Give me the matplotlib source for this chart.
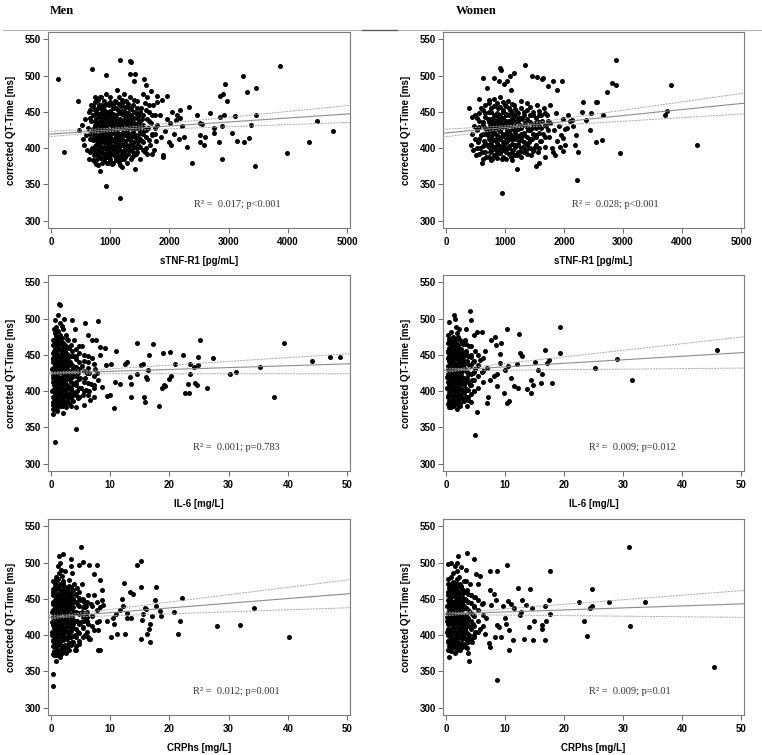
import matplotlib
matplotlib.use('Agg')
import matplotlib.pyplot as plt
import numpy as np

plt.rcParams['font.family'] = ['Liberation Sans', 'DejaVu Sans']

# ---- data: (marker value, corrected QT-Time) ----
men_tnf = [
    (480,425),(520,432),(540,412),(560,405),(575,440),(590,418),(610,398),(620,428),(640,450),(650,385),
    (660,412),(670,437),(680,460),(690,400),(700,422),
    (710,445),(720,390),(730,415),(740,432),(750,470),(755,405),(765,378),(770,425),(780,448),(790,398),
    (800,412),(805,436),(815,460),(820,388),(830,420),(835,443),(845,402),(850,455),(860,380),(865,430),
    (870,415),(880,394),(885,447),(890,425),(895,408),(900,465),(760,440),(775,410),(795,455),(810,395),
    (825,430),(840,418),(855,440),(875,400),(730,400),(745,420),(785,385),(815,425),(835,470),(880,435),
    (905,388),(910,418),(915,438),(920,400),(925,475),(930,428),(935,410),(940,450),(945,392),(950,432),
    (955,380),(960,415),(965,445),(970,402),(975,425),(980,460),(985,395),(990,437),(995,410),(1000,470),
    (1005,385),(1010,420),(1015,448),(1020,405),(1025,430),(1030,378),(1035,413),(1040,442),(1045,398),
    (1050,455),(1055,422),(1060,390),(1065,435),(1070,410),(1075,465),(1080,427),(1085,400),(1090,445),
    (1095,383),(1100,418),(920,425),(960,435),(1000,398),(1040,428),(1080,412),
    (1105,440),(1110,395),(1115,480),(1120,425),(1125,408),(1130,452),(1135,385),(1140,433),(1145,415),
    (1150,470),(1155,398),(1160,440),(1165,420),(1170,377),(1175,458),(1180,405),(1185,430),(1190,390),
    (1195,447),(1200,412),(1205,462),(1210,425),(1215,395),(1220,438),(1225,408),(1230,475),(1235,385),
    (1240,428),(1245,450),(1250,402),(1255,418),(1260,440),(1265,390),(1270,465),(1275,422),(1280,405),
    (1285,445),(1290,380),(1295,432),(1300,412),
    (1310,455),(1320,398),(1330,428),(1340,470),(1350,410),(1360,440),(1370,388),(1380,422),(1390,460),
    (1400,402),(1410,435),(1420,415),(1430,448),(1440,392),(1450,428),(1460,465),(1470,405),(1480,438),
    (1490,420),(1500,385),(1315,420),(1345,435),(1375,405),(1405,450),(1435,428),(1465,410),(1495,445),
    (1325,442),(1385,395),(1455,400),
    (1510,430),(1520,455),(1530,410),(1545,440),(1560,398),(1570,425),(1585,462),(1600,415),(1615,440),
    (1630,392),(1645,428),(1660,450),(1675,405),(1690,435),(1705,418),(1720,460),(1735,398),(1750,428),
    (1765,445),(1780,410),(1795,432),(1550,475),(1620,470),(1700,392),(1580,395),
    (1846,446),(1790,464),(1874,466),(1762,420),(1886,391),(1897,388),(1930,423),(1987,409),(2015,434),
    (2027,404),(2072,420),(2117,439),(2128,446),(2156,412),(2213,430),(2241,416),(1960,440),(2050,450),
    (1850,415),(2180,442),
    (113,495),(214,395),(450,465),(687,509),(923,501),(935,348),(1160,331),(1160,522),(1340,520),
    (1357,519),(1340,502),(1425,502),(1396,493),(1565,495),(1610,487),(1419,371),(1205,374),(833,369),
    (1689,479),(1790,472),(1959,472),(2185,453),(2325,456),(2297,402),(2381,379),(2466,446),(2522,434),
    (2550,433),(2522,418),(2522,409),(2607,416),(2590,405),(2691,448),(2747,421),(2832,409),(2860,472),
    (2905,475),(2747,428),(2888,385),(2933,489),(2973,465),(2860,443),(2883,430),(2928,445),(3057,421),
    (3113,444),(3141,410),(3243,500),(3254,408),(3310,477),(3338,414),(3378,432),(3451,376),(3468,446),
    (3468,483),(3873,513),(3986,394),(4352,408),(4493,438),(4763,423),
]
# dense core, read column by column: x -> QT values
men_tnf_core = {
    655: [395, 419, 441, 453], 702: [384, 399, 411, 427, 446, 458],
    748: [381, 393, 403, 417, 429, 437, 452, 463], 797: [377, 391, 404, 415, 425, 434, 446, 467],
    852: [386, 395, 409, 414, 423, 437, 448, 460, 471], 903: [383, 392, 402, 413, 421, 431, 443, 452, 458],
    948: [379, 388, 398, 407, 419, 426, 440, 447, 461], 1002: [382, 390, 404, 414, 424, 433, 444, 451, 464],
    1053: [380, 395, 402, 412, 426, 436, 447, 459], 1098: [386, 392, 406, 415, 423, 433, 441, 455, 463],
    1152: [381, 389, 401, 410, 419, 428, 439, 448, 461], 1203: [385, 396, 405, 418, 429, 436, 451, 467],
    1249: [388, 397, 410, 421, 434, 443, 456], 1302: [392, 401, 417, 426, 438, 448, 461],
    1348: [385, 397, 406, 416, 429, 445, 454], 1401: [390, 409, 420, 428, 441, 467],
    1452: [395, 414, 433, 441, 455], 1503: [401, 412, 423, 437, 450], 1551: [408, 419, 432, 446],
    1603: [400, 425, 452], 1648: [411, 438, 459], 1702: [420, 445],
}

women_tnf = [
    (420,405),(440,420),(455,398),(470,430),(490,412),(500,445),(515,390),(530,425),(545,408),(560,438),
    (575,400),(590,455),(600,418),(615,395),(630,432),(645,410),(660,448),(675,388),(690,425),(700,405),
    (710,440),(720,418),(730,462),(740,395),(750,430),(760,410),(770,450),(780,385),(790,422),(800,440),
    (810,400),(820,468),(830,428),(840,412),(850,445),(860,392),(870,432),(880,455),(890,405),(900,425),
    (910,470),(920,398),(930,440),(940,415),(950,385),(960,450),(970,420),(980,405),(990,435),(1000,460),
    (725,405),(765,435),(805,420),(845,398),(885,440),(925,428),(965,402),(995,415),
    (1010,395),(1020,445),(1030,425),(1040,410),(1050,465),(1060,438),(1070,400),(1080,420),(1090,452),
    (1100,388),(1110,430),(1120,412),(1130,445),(1140,398),(1150,425),(1160,460),(1170,405),(1180,437),
    (1190,418),(1200,390),(1210,450),(1220,428),(1230,410),(1240,442),(1250,395),(1260,432),(1270,465),
    (1280,415),(1290,440),(1300,402),(1015,430),(1065,415),(1115,440),(1165,425),(1215,405),(1265,420),
    (1315,450),(1330,418),(1345,435),(1360,398),(1375,462),(1390,425),(1405,408),(1420,445),(1435,390),
    (1450,428),(1465,412),(1480,450),(1495,400),(1510,435),(1525,418),(1540,460),(1555,395),(1570,430),
    (1585,445),(1600,410),(1620,438),(1640,420),(1660,455),(1680,402),(1700,430),
    (1720,445),(1745,415),(1770,435),(1800,400),(1830,425),(1860,448),(1890,410),(1920,430),(1950,418),
    (1980,440),(2010,405),(2050,428),(2100,437),(1760,460),(1850,390),
    (383,455),(439,443),(563,468),(625,497),(608,379),(692,483),(816,497),(906,492),(917,510),(929,507),
    (946,338),(985,489),(1041,493),(1087,500),(1154,504),(1098,480),(1199,371),(1340,515),(1452,500),
    (1537,498),(1621,495),(1650,496),(1526,376),(1582,379),(1678,388),(1734,485),(1807,493),(1818,395),
    (1875,480),(1959,493),(1976,396),(1931,402),(1987,414),(2015,427),(2072,446),(2128,439),(2156,430),
    (2196,418),(2190,405),(2230,395),(2213,356),(2297,450),(2325,463),(2381,439),(2438,425),(2455,449),
    (2540,463),(2550,408),(2562,464),(2652,411),(2663,446),(2731,477),(2821,490),(2888,487),(2888,522),
    (2944,393),(3705,446),(3744,451),(3806,487),(4256,404),
]
women_tnf_core = {
    522: [400, 426, 441], 568: [392, 413, 429, 448], 621: [385, 403, 420, 436, 452],
    668: [395, 407, 419, 428, 443, 459], 723: [388, 401, 412, 424, 436, 450, 466],
    771: [383, 396, 406, 416, 427, 440, 455], 818: [390, 401, 411, 422, 433, 445, 458],
    872: [386, 398, 407, 418, 428, 438, 449, 462], 918: [393, 403, 413, 423, 434, 445, 456],
    971: [388, 398, 409, 418, 430, 441, 452, 464], 1022: [385, 399, 408, 420, 429, 437, 447, 458],
    1068: [392, 403, 412, 423, 434, 446, 455], 1121: [383, 395, 406, 417, 428, 436, 449, 461],
    1172: [390, 401, 413, 422, 431, 444, 454], 1218: [395, 405, 417, 426, 437, 448],
    1271: [388, 400, 411, 428, 441, 455], 1322: [395, 408, 421, 432, 445],
    1368: [392, 404, 415, 429, 440, 452], 1421: [400, 412, 425, 436, 457],
    1472: [396, 420, 432, 446], 1519: [405, 415, 428, 442], 1572: [400, 421, 436, 451],
    1618: [410, 428, 445], 1671: [415, 432, 448], 1722: [425, 438],
}

men_il6 = [
    (0.2,400),(0.3,418),(0.3,440),(0.4,385),(0.4,428),(0.5,455),(0.5,408),(0.6,470),(0.6,392),(0.7,435),
    (0.7,415),(0.8,448),(0.8,378),(0.9,425),(0.9,402),(1.0,462),(1.0,438),(0.3,375),(0.5,485),(0.7,498),
    (0.4,445),(0.6,420),(0.8,432),(0.9,410),(0.2,430),
    (1.1,395),(1.1,450),(1.2,420),(1.2,475),(1.3,405),(1.3,440),(1.4,388),(1.4,458),(1.5,428),(1.5,412),
    (1.6,445),(1.6,470),(1.7,398),(1.7,435),(1.8,418),(1.8,490),(1.9,380),(1.9,452),(2.0,425),(2.0,408),
    (1.2,505),(1.3,520),(1.5,518),(1.1,430),(1.4,415),(1.6,400),(1.8,440),(1.9,465),(1.0,372),(1.7,385),
    (2.1,440),(2.2,395),(2.3,460),(2.3,415),(2.4,432),(2.5,385),(2.5,478),(2.6,420),(2.7,448),(2.8,405),
    (2.8,435),(2.9,470),(3.0,392),(3.0,425),(2.2,500),(2.6,378),(2.4,410),(2.9,445),(2.1,370),(2.7,428),
    (3.2,440),(3.3,405),(3.5,455),(3.6,420),(3.8,395),(3.9,470),(4.0,430),(4.2,412),(4.3,448),(4.5,390),
    (4.6,425),(4.8,462),(5.0,405),(3.4,380),(4.1,485),(4.7,440),(3.7,432),(4.4,400),(3.1,418),(4.9,418),
    (3.5,498),(4.2,378),
    (5.2,435),(5.4,395),(5.5,381),(5.6,450),(5.8,418),(6.0,402),(6.2,440),(6.4,400),(6.6,388),(6.5,425),
    (6.8,410),(7.0,445),(7.3,409),(7.5,430),(7.8,425),(8.0,415),(8.3,450),(8.6,406),(5.7,494),(6.2,478),
    (5.3,462),(7.6,470),(6.1,425),(7.2,392),
    (0.66,330),(4.3,348),(0.3,368),(6.9,471),(7.9,496),(8.3,461),(9.1,459),(9.3,436),(9.4,393),
    (10.0,395),(10.8,413),(10.7,377),(10.9,455),(10.1,437),(11.6,410),(12.5,437),(12.9,440),(13.4,420),
    (13.5,392),(13.5,410),(14.5,466),(14.6,424),(15.2,436),(15.5,438),(15.7,392),(15.8,385),(16.1,419),
    (16.2,417),(16.4,429),(16.6,450),(17.2,465),(18.2,380),(18.7,404),(19.1,409),(19.0,452),(19.2,407),
    (19.9,417),(20.1,454),(20.2,421),(20.9,438),(22.3,450),(22.7,398),(23.3,398),(23.1,410),(23.4,438),
    (23.4,423),(24.1,433),(24.4,411),(24.6,409),(24.9,436),(24.9,447),(25.1,471),(26.4,404),(27.4,445),
    (30.3,423),(31.2,427),(35.3,433),(37.7,392),(39.4,467),(44.0,441),(47.1,447),(48.8,447),
]
men_il6_core = {
    0.3: [381, 392, 401, 412, 422, 432, 444, 452, 463, 471],
    0.6: [376, 387, 397, 405, 416, 428, 437, 446, 458, 466, 480],
    0.9: [383, 392, 404, 414, 423, 435, 444, 455, 466, 476, 488],
    1.2: [378, 389, 398, 409, 420, 429, 441, 450, 459, 470, 483],
    1.5: [384, 395, 403, 414, 426, 436, 445, 456, 467, 477, 494],
    1.8: [380, 389, 401, 411, 420, 432, 442, 451, 463, 473],
    2.1: [386, 396, 405, 417, 427, 436, 448, 458, 467, 486],
    2.4: [382, 393, 402, 412, 424, 434, 443, 455, 464],
    2.7: [388, 397, 409, 420, 429, 440, 451, 461, 472],
    3.0: [384, 396, 406, 417, 428, 439, 448, 459],
    3.4: [390, 402, 413, 426, 437, 449, 463], 3.8: [386, 399, 410, 422, 435, 448],
    4.3: [395, 408, 421, 433, 444, 458], 4.8: [392, 405, 417, 431, 452],
    5.5: [400, 413, 428, 441], 6.3: [395, 411, 432, 449], 7.2: [405, 421, 438],
}

women_il6 = [
    (0.2,405),(0.3,430),(0.3,455),(0.4,418),(0.4,392),(0.5,442),(0.5,468),(0.6,410),(0.6,385),(0.7,435),
    (0.7,422),(0.8,450),(0.8,400),(0.9,428),(0.9,462),(1.0,415),(1.0,388),(0.4,478),(0.6,495),(0.3,445),
    (0.5,425),(0.7,408),(0.9,440),(0.2,420),(0.8,378),
    (1.1,440),(1.1,405),(1.2,455),(1.2,425),(1.3,395),(1.3,470),(1.4,432),(1.4,412),(1.5,448),(1.5,385),
    (1.6,420),(1.6,465),(1.7,400),(1.7,438),(1.8,415),(1.8,480),(1.9,392),(1.9,452),(2.0,428),(2.0,408),
    (1.3,505),(1.5,500),(1.7,488),(1.1,418),(1.4,445),(1.6,398),(1.8,435),(1.9,375),(1.2,380),(2.0,462),
    (2.1,445),(2.2,410),(2.3,432),(2.4,395),(2.5,458),(2.5,420),(2.6,440),(2.7,402),(2.8,428),(2.9,465),
    (3.0,412),(3.0,448),(2.2,485),(2.4,380),(2.6,425),(2.8,390),(2.3,470),(2.7,450),(2.9,435),(2.1,425),
    (3.2,430),(3.3,400),(3.4,455),(3.5,418),(3.6,442),(3.7,392),(3.8,425),(3.9,462),(4.0,408),(4.1,435),
    (4.2,385),(4.3,450),(4.4,415),(4.6,440),(4.8,400),(5.0,430),(3.4,485),(4.2,498),(3.1,412),(4.5,425),
    (3.6,380),(4.9,455),(3.3,470),(4.0,510),
    (6.7,455),(7.6,470),(8.3,475),(8.5,464),(9.1,451),(9.4,466),(9.1,439),(8.1,421),(8.7,423),(6.1,427),
    (7.0,432),(5.8,443),(6.1,482),(5.3,482),(4.7,477),(7.5,416),(8.6,407),(10.0,429),(10.5,434),(11.1,418),
    (4.9,339),(5.3,371),(6.9,383),(7.2,392),(9.8,398),(10.3,384),(10.7,386),(10.3,486),(12.4,479),
    (12.0,437),(12.6,452),(12.9,448),(11.5,407),(12.2,405),(13.7,403),(14.4,416),(14.4,398),(14.8,409),
    (15.1,440),(15.6,429),(16.2,423),(16.1,411),(16.8,457),(17.2,439),(17.5,443),(17.9,411),(19.4,489),
    (19.3,452),(25.3,432),(28.9,444),(31.5,416),(45.9,457),
]
women_il6_core = {
    0.3: [382, 393, 403, 412, 424, 435, 445, 454, 466],
    0.6: [378, 387, 398, 410, 419, 429, 441, 451, 460, 472],
    0.9: [384, 395, 405, 414, 426, 437, 446, 457, 468, 481],
    1.2: [380, 389, 401, 411, 420, 432, 443, 452, 463, 474],
    1.5: [386, 396, 406, 418, 428, 437, 449, 460, 470],
    1.8: [382, 393, 402, 412, 423, 435, 444, 455, 465],
    2.1: [388, 397, 409, 420, 430, 439, 451, 462, 475],
    2.4: [384, 395, 404, 414, 426, 436, 445, 457],
    2.7: [390, 401, 411, 420, 432, 444, 454, 466],
    3.0: [386, 397, 408, 418, 430, 441, 452],
    3.4: [392, 403, 416, 428, 439, 452, 465], 3.8: [388, 401, 412, 424, 437, 449],
    4.3: [396, 409, 423, 436, 447, 462], 4.8: [400, 415, 427, 442],
    5.5: [405, 421, 436, 450], 6.3: [412, 428, 445],
}

men_crp = [
    (0.1,405),(0.2,432),(0.2,418),(0.3,445),(0.3,392),(0.4,425),(0.4,460),(0.5,410),(0.5,378),(0.6,440),
    (0.6,398),(0.7,428),(0.7,470),(0.8,415),(0.8,385),(0.9,450),(0.9,405),(1.0,435),(1.0,420),(0.3,475),
    (0.5,372),(0.6,455),(0.8,365),(0.2,400),(0.9,480),
    (1.1,445),(1.1,400),(1.2,425),(1.2,465),(1.3,390),(1.3,440),(1.4,410),(1.4,485),(1.5,430),(1.5,372),
    (1.6,455),(1.6,415),(1.7,398),(1.7,438),(1.8,470),(1.8,420),(1.9,385),(1.9,448),(2.0,408),(2.0,432),
    (1.2,495),(1.5,500),(1.7,490),(1.1,380),(1.3,418),(1.6,370),(1.9,460),(1.4,450),(1.8,402),(2.0,475),
    (2.1,420),(2.2,445),(2.2,395),(2.3,430),(2.4,462),(2.4,408),(2.5,440),(2.6,385),(2.6,425),(2.7,455),
    (2.8,412),(2.9,435),(3.0,398),(3.0,468),(2.3,488),(2.5,375),(2.7,420),(2.8,448),(2.1,470),(2.9,405),
    (3.0,425),
    (3.2,440),(3.3,410),(3.4,458),(3.5,425),(3.6,390),(3.7,445),(3.8,415),(3.9,470),(4.0,400),(4.1,432),
    (4.2,455),(4.3,380),(4.4,420),(4.5,442),(4.6,405),(4.7,430),(4.8,388),(4.9,448),(5.0,418),(3.5,485),
    (4.0,380),(3.3,495),(4.4,465),(3.8,432),(4.8,460),
    (5.2,432),(5.4,410),(5.6,445),(5.8,400),(6.0,425),(6.2,455),(6.4,395),(5.3,470),(5.9,440),(6.3,415),
    (6.1,425),(6.7,443),(7.3,455),(7.7,446),(8.3,439),(8.6,448),(8.8,441),(8.6,462),(8.1,420),(7.2,407),
    (8.0,407),(6.6,395),(6.2,397),(5.5,420),(5.8,439),(8.3,379),
    (0.4,347),(0.4,330),(5.0,521),(2.1,512),(1.3,509),(3.3,505),(5.4,501),(4.8,497),(6.4,496),(7.7,496),
    (7.2,484),(8.3,476),(7.9,379),(14.5,497),(15.2,502),(15.2,466),(12.4,472),(13.3,460),(13.9,456),
    (12.0,450),(12.2,440),(11.6,435),(12.9,430),(13.5,423),(12.9,424),(12.5,402),(11.2,401),(10.2,397),
    (10.6,415),(10.5,423),(11.0,429),(9.4,420),(15.2,395),(15.4,421),(15.5,429),(15.9,437),(16.0,436),
    (16.3,402),(16.6,409),(16.7,415),(16.7,391),(17.0,427),(17.6,448),(17.8,466),(17.8,440),(18.4,433),
    (18.5,426),(20.7,432),(21.5,402),(21.8,420),(22.2,451),(28.0,413),(31.9,414),(34.3,437),(40.2,397),
]
men_crp_core = {
    0.3: [374, 385, 394, 403, 414, 425, 434, 443, 455, 464],
    0.6: [378, 387, 398, 409, 418, 427, 438, 449, 458, 467],
    0.9: [372, 383, 392, 401, 412, 423, 432, 441, 452, 463, 474],
    1.2: [376, 386, 397, 406, 415, 426, 437, 446, 455, 466, 478],
    1.5: [380, 391, 400, 409, 420, 431, 440, 449, 460, 471],
    1.8: [375, 384, 395, 406, 415, 424, 435, 446, 455, 464, 482],
    2.1: [382, 393, 402, 411, 422, 433, 442, 451, 462, 472],
    2.4: [378, 387, 398, 409, 418, 427, 438, 449, 458, 467],
    2.7: [384, 395, 404, 413, 424, 435, 444, 453, 464],
    3.0: [380, 389, 400, 411, 420, 429, 440, 451, 460, 476],
    3.4: [386, 397, 406, 415, 426, 437, 446, 455, 466],
    3.8: [390, 399, 410, 421, 430, 439, 450, 462],
    4.3: [385, 397, 408, 419, 432, 445, 456], 4.8: [392, 403, 416, 429, 440, 451],
    5.4: [398, 411, 425, 439, 450], 6.1: [405, 419, 432, 445], 6.9: [412, 427, 440], 7.8: [418, 434],
}

women_crp = [
    (0.1,420),(0.2,440),(0.2,405),(0.3,455),(0.3,430),(0.4,392),(0.4,415),(0.5,445),(0.5,470),(0.6,425),
    (0.6,400),(0.7,438),(0.7,385),(0.8,452),(0.8,418),(0.9,430),(0.9,408),(1.0,465),(1.0,442),(0.3,478),
    (0.5,380),(0.7,460),(0.2,425),(0.9,395),(0.6,448),
    (1.1,425),(1.1,455),(1.2,410),(1.2,438),(1.3,395),(1.3,472),(1.4,445),(1.4,420),(1.5,402),(1.5,432),
    (1.6,460),(1.6,388),(1.7,428),(1.7,448),(1.8,412),(1.8,478),(1.9,398),(1.9,440),(2.0,422),(2.0,455),
    (1.2,485),(1.6,495),(1.9,500),(1.1,385),(1.4,408),(1.7,378),(1.5,465),(1.3,430),(1.8,435),(2.0,390),
    (2.1,435),(2.2,412),(2.3,450),(2.4,398),(2.5,428),(2.5,468),(2.6,442),(2.7,405),(2.8,425),(2.9,458),
    (3.0,415),(3.0,440),(2.2,480),(2.4,385),(2.6,418),(2.8,388),(2.3,430),(2.7,462),(2.9,400),(2.1,460),
    (3.1,428),(3.2,450),(3.3,408),(3.4,438),(3.5,395),(3.6,462),(3.7,420),(3.8,445),(3.9,400),(4.0,432),
    (4.2,412),(4.3,455),(4.4,390),(4.6,428),(4.8,440),(5.0,405),(3.4,475),(4.1,470),(3.6,382),(4.5,415),
    (4.9,452),(3.3,425),(4.7,398),
    (8.6,338),(3.6,513),(4.8,505),(0.3,498),(0.9,499),(2.5,494),(3.4,490),(2.1,509),(0.55,370),(3.7,375),
    (3.9,365),(5.1,484),(5.7,481),(7.4,488),(8.6,488),(10.3,497),(12.2,465),(14.2,463),(17.7,489),
    (24.7,463),(31.0,522),(31.2,413),(33.8,445),(27.6,445),(22.5,445),(24.4,438),(24.7,440),(23.4,419),
    (23.9,399),(45.5,356),(17.5,448),(17.7,429),(16.7,440),(16.9,419),(16.2,414),(16.3,409),(16.7,393),
    (15.0,419),(14.8,394),(14.1,411),(13.3,395),(13.6,441),(14.6,437),(12.9,448),(12.7,432),(12.5,428),
    (11.6,437),(11.3,393),(10.7,379),(10.7,407),(10.1,416),(11.0,443),(10.5,447),(10.0,423),(9.4,397),
    (9.6,440),(9.0,411),(8.3,397),(8.6,414),(8.5,448),(8.2,457),(7.5,462),(7.3,389),(7.4,384),(6.8,423),
    (7.6,441),(6.7,401),(6.1,443),(5.8,409),(5.4,471),
]
women_crp_core = {
    0.3: [380, 391, 400, 409, 420, 431, 440, 449, 460, 470],
    0.6: [385, 394, 405, 416, 425, 434, 445, 456, 465],
    0.9: [378, 389, 398, 407, 418, 429, 438, 447, 458, 469, 480],
    1.2: [383, 392, 403, 414, 423, 432, 443, 454, 463, 473],
    1.5: [376, 387, 396, 405, 416, 427, 436, 445, 456, 466],
    1.8: [381, 390, 401, 412, 421, 430, 441, 452, 461, 471, 488],
    2.1: [386, 397, 406, 415, 426, 437, 446, 455, 466],
    2.4: [379, 388, 399, 410, 419, 428, 439, 450, 459, 470],
    2.7: [384, 395, 404, 413, 424, 435, 444, 453, 464],
    3.0: [388, 397, 408, 419, 428, 437, 448, 459, 474],
    3.4: [383, 395, 405, 416, 428, 438, 449, 460], 3.8: [390, 401, 413, 423, 434, 446, 456],
    4.3: [395, 408, 419, 431, 444, 455], 4.8: [400, 413, 427, 439, 452],
    5.5: [405, 420, 435, 448], 6.3: [412, 428, 444],
}

# regression line and 95% band read at left edge, near the mean, right edge
fit_x_tnf = [-50, 1200, 5050]
fit_x_small = [-0.5, 2.5, 50.5]
men_tnf_fit = [419.2, 426.1, 447.3]
men_tnf_up = [423.0, 428.0, 459.0]
men_tnf_lo = [415.8, 424.2, 435.5]
women_tnf_fit = [420.6, 429.9, 461.9]
women_tnf_up = [426.0, 431.6, 475.8]
women_tnf_lo = [415.2, 428.2, 447.2]
men_il6_fit = [424.7, 425.4, 437.7]
men_il6_up = [426.0, 426.8, 451.6]
men_il6_lo = [423.4, 424.0, 423.9]
women_il6_fit = [428.4, 429.8, 453.2]
women_il6_up = [431.5, 431.3, 474.9]
women_il6_lo = [425.6, 428.3, 431.8]
men_crp_fit = [424.3, 426.2, 457.2]
men_crp_up = [427.0, 427.8, 476.5]
men_crp_lo = [422.0, 424.6, 437.8]
women_crp_fit = [429.1, 429.9, 443.2]
women_crp_up = [431.8, 431.5, 461.6]
women_crp_lo = [426.5, 428.3, 424.5]

stats_text = ["R² =  0.017; p<0.001", "R² =  0.028; p<0.001",
              "R² =  0.001; p=0.783", "R² =  0.009; p=0.012",
              "R² =  0.012; p=0.001", "R² =  0.009; p=0.01"]
x_labels = ["sTNF-R1 [pg/mL]", "IL-6 [mg/L]", "CRPhs [mg/L]"]

panels = [
    (men_tnf, men_tnf_core, fit_x_tnf, men_tnf_fit, men_tnf_up, men_tnf_lo),
    (women_tnf, women_tnf_core, fit_x_tnf, women_tnf_fit, women_tnf_up, women_tnf_lo),
    (men_il6, men_il6_core, fit_x_small, men_il6_fit, men_il6_up, men_il6_lo),
    (women_il6, women_il6_core, fit_x_small, women_il6_fit, women_il6_up, women_il6_lo),
    (men_crp, men_crp_core, fit_x_small, men_crp_fit, men_crp_up, men_crp_lo),
    (women_crp, women_crp_core, fit_x_small, women_crp_fit, women_crp_up, women_crp_lo),
]
text_x = [2420, 2140, 24, 24.2, 24, 24.2]

fig = plt.figure(figsize=(7.62, 7.55), dpi=100)
W, H = 762.0, 755.0
col_left = [48, 443]
col_width = [302, 301]
row_top = [32, 275, 519]
box_h = 196

for i, (pts, core, fx, fy, fu, fl) in enumerate(panels):
    r, c = divmod(i, 2)
    ax = fig.add_axes([col_left[c] / W, 1 - (row_top[r] + box_h) / H,
                       col_width[c] / W, box_h / H])
    xs = [p[0] for p in pts]
    ys = [p[1] for p in pts]
    for cx, cys in core.items():
        xs += [cx] * len(cys)
        ys += cys
    ax.scatter(xs, ys, s=13, color='black', linewidths=0, zorder=2)
    ax.plot(fx, fy, color='#8c8c8c', lw=0.8, zorder=3)
    ax.plot(fx, fu, color='#a8a8a8', lw=0.7, ls=(0, (2, 1)), zorder=3)
    ax.plot(fx, fl, color='#a8a8a8', lw=0.7, ls=(0, (2, 1)), zorder=3)

    if r == 0:
        ax.set_xlim(-50, 5050)
        ax.set_xticks([0, 1000, 2000, 3000, 4000, 5000])
    else:
        ax.set_xlim(-0.5, 50.5)
        ax.set_xticks([0, 10, 20, 30, 40, 50])
    ax.set_ylim(290, 560)
    ax.set_yticks([300, 350, 400, 450, 500, 550])

    for sp in ax.spines.values():
        sp.set_color('#7a7a7a')
        sp.set_linewidth(0.8)
    ax.tick_params(axis='both', length=3.6, width=0.7, color='#6a6a6a',
                   labelsize=7)
    ax.tick_params(axis='y', pad=1.5)
    ax.tick_params(axis='x', pad=3)
    for lab in ax.get_xticklabels() + ax.get_yticklabels():
        lab.set_fontweight('bold')

    ax.set_xlabel(x_labels[r], fontsize=7, fontweight='bold')
    ax.set_ylabel("corrected QT-Time [ms]", fontsize=7, fontweight='bold')
    ax.xaxis.set_label_coords(0.5, -0.145)
    ax.yaxis.set_label_coords(-0.105, 0.5)

    ax.text(text_x[i], 323, stats_text[i], family='Liberation Serif',
            fontsize=7.5, color='#333333', ha='left', va='center')

# header line and titles
fig.add_artist(plt.Line2D([3 / W, 1], [1 - 30 / H, 1 - 30 / H],
                          color='#b0b0b0', lw=0.8))
fig.add_artist(plt.Line2D([362 / W, 397 / W], [1 - 30 / H, 1 - 30 / H],
                          color='#555555', lw=0.9))
fig.text(50 / W, 1 - 11 / H, "Men", family='Liberation Serif',
         fontweight='bold', fontsize=9, va='center', ha='left')
fig.text(456 / W, 1 - 11 / H, "Women", family='Liberation Serif',
         fontweight='bold', fontsize=9, va='center', ha='left')

fig.savefig('out.png', dpi=100, facecolor='white')
